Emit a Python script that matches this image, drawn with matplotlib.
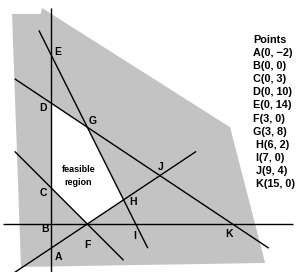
import matplotlib
matplotlib.use("Agg")
import matplotlib.pyplot as plt
from matplotlib.patches import Polygon

plt.rcParams['font.family'] = ['Liberation Sans', 'DejaVu Sans']

# Named points (label, x, y)
point_names = ["A", "B", "C", "D", "E", "F", "G", "H", "I", "J", "K"]
point_x = [0, 0, 0, 0, 0, 3, 3, 6, 7, 9, 15]
point_y = [-2, 0, 3, 10, 14, 0, 8, 2, 0, 4, 0]
point_text = ["A(0, \u22122)", "B(0, 0)", "C(0, 3)", "D(0, 10)", "E(0, 14)",
              "F(3, 0)", "G(3, 8)", "H(6, 2)", "I(7, 0)", "J(9, 4)", "K(15, 0)"]

# label offsets (data units) from each point
label_dx = [0.58, -0.45, -0.66, -0.66, 0.58, 0.0, 0.4, 0.8, -0.06, 0.1, -0.3]
label_dy = [-0.7, -0.45, -0.4, -0.4, 0.2, -1.7, 0.5, -0.2, -1.0, 0.7, -0.85]

# constraint lines: endpoints (x0, y0, x1, y1)
line_x0 = [0, -4, -3, -3, -1, -3]
line_y0 = [17.85, 0, 6, -4, 16, 12]
line_x1 = [0, 20, 6, 12, 8, 18]
line_y1 = [-4.0, 0, -3, 6, -2, -2]

# shaded background polygon
shade_x = [-3.22, -0.85, -0.74, 14.8, 17.7, -2.48]
shade_y = [17.36, 17.36, 17.85, 8.0, -3.22, -3.55]

# feasible region vertices: C, D, G, H, F
feas_x = [0, 0, 3, 6, 3]
feas_y = [3, 10, 8, 2, 0]

fig = plt.figure(figsize=(2.96, 2.72), dpi=100)
ax = fig.add_axes([0, 0, 1, 1])
ax.set_xlim(-51 / 12.1, (296 - 51) / 12.1)
ax.set_ylim(-48 / 12.1, 224 / 12.1)
ax.axis('off')

ax.add_patch(Polygon(list(zip(shade_x, shade_y)), closed=True,
                     facecolor='#c3c3c3', edgecolor='none', zorder=1))
ax.add_patch(Polygon(list(zip(feas_x, feas_y)), closed=True,
                     facecolor='white', edgecolor='none', zorder=2))

for x0, y0, x1, y1 in zip(line_x0, line_y0, line_x1, line_y1):
    ax.plot([x0, x1], [y0, y1], color='black', lw=1.0, zorder=3,
            solid_capstyle='butt')

for n, x, y, dx, dy in zip(point_names, point_x, point_y, label_dx, label_dy):
    ax.text(x + dx, y + dy, n, fontsize=7.5, fontweight='bold',
            ha='center', va='center', zorder=4)

ax.text(78.5 / 296, 1 - 176 / 272, "feasible\nregion", transform=ax.transAxes,
        fontsize=6.5, fontweight='bold', ha='center', va='center',
        multialignment='center', linespacing=1.5, zorder=4)

# Points legend column
ax.text(253 / 296, 1 - 40 / 272, "Points", transform=ax.transAxes,
        fontsize=7.8, fontweight='bold', ha='left', va='center')
for i, t in enumerate(point_text):
    indent = 0 if i < 7 else 3
    ax.text((253 + indent) / 296, 1 - (53 + 13.1 * i) / 272, t,
            transform=ax.transAxes, fontsize=7.8, fontweight='bold',
            ha='left', va='center')

fig.savefig("out.png", dpi=100)
